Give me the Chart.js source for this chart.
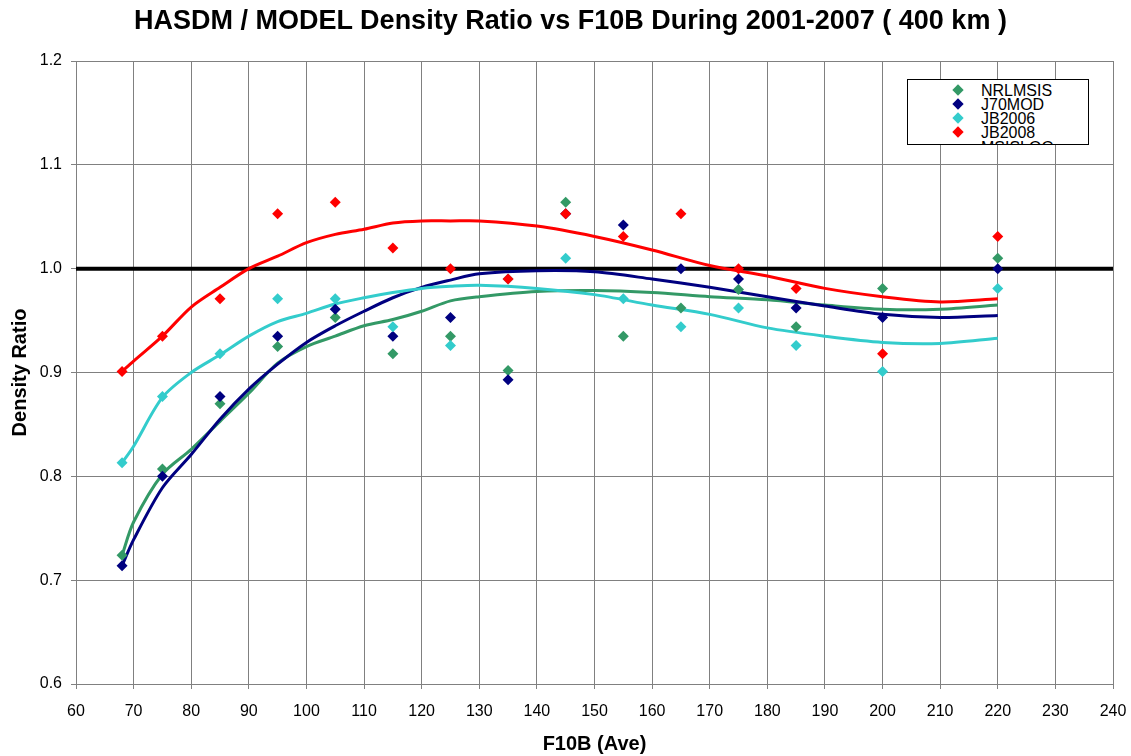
<!DOCTYPE html>
<html>
<head>
<meta charset="utf-8">
<script src="https://cdn.jsdelivr.net/npm/chart.js@4/dist/chart.umd.min.js"></script>
<style>
  html, body { margin: 0; padding: 0; background: #fff; }
  #wrap { position: relative; width: 1131px; height: 756px; }
  #title { position: absolute; left: 70.5px; width: 1000px; top: 7.4px; height: 27px; line-height: 27px; text-align: center;
    font-family: "Liberation Sans", Arial, sans-serif; font-size: 27px; font-weight: bold; color: #000; white-space: nowrap; }
  #legend { position: absolute; left: 907px; top: 79px; width: 182px; height: 66px; box-sizing: border-box;
    border: 1px solid #000; background: #fff; overflow: hidden; font-family: "Liberation Sans", Arial, sans-serif; font-size: 16px; }
  .row { position: absolute; left: 0; height: 16px; line-height: 16px; white-space: nowrap; }
  .mk { position: absolute; left: 46px; top: 3px; width: 8px; height: 8px; transform: rotate(45deg); }
  .tx { position: absolute; left: 73px; top: 0; color: #000; }
</style>
</head>
<body>
<div id="wrap">
  <canvas id="c" width="1131" height="756"></canvas>
  <div id="title"></div>
  <div id="legend"></div>
</div>
<script>
// ---- data ----
const chartTitle = "HASDM / MODEL Density Ratio vs F10B During 2001-2007 ( 400 km )";
const xAxisTitle = "F10B (Ave)";
const yAxisTitle = "Density Ratio";
const seriesNames = ["NRLMSIS", "J70MOD", "JB2006", "JB2008"];
const extraLegendName = "MSISLOG";
const f10b = [68, 75, 85, 95, 105, 115, 125, 135, 145, 155, 165, 175, 185, 200, 220];
const nrlmsis = [0.724, 0.807, 0.870, 0.925, 0.953, 0.918, 0.935, 0.902, 1.064, 0.935, 0.962, 0.980, 0.944, 0.981, 1.010];
const j70mod  = [0.714, 0.800, 0.877, 0.935, 0.961, 0.935, 0.953, 0.893, 1.053, 1.042, 1.000, 0.990, 0.962, 0.953, 1.000];
const jb2006  = [0.813, 0.877, 0.918, 0.971, 0.971, 0.944, 0.926, 0.990, 1.010, 0.971, 0.944, 0.962, 0.926, 0.901, 0.981];
const jb2008  = [0.901, 0.935, 0.971, 1.053, 1.064, 1.020, 1.000, 0.990, 1.053, 1.031, 1.053, 1.000, 0.981, 0.918, 1.031];

// trend lines, read at these F10B values
const trendX = [68, 70, 75, 80, 85, 90, 95, 100, 105, 110, 115, 120, 125, 130, 140, 150, 160, 170, 180, 190, 200, 210, 220];
const trendNrlmsis = [0.724, 0.756, 0.802, 0.826, 0.853, 0.880, 0.909, 0.925, 0.935, 0.945, 0.951, 0.959, 0.969, 0.973, 0.978, 0.979, 0.977, 0.973, 0.970, 0.965, 0.961, 0.961, 0.965];
const trendJ70mod  = [0.714, 0.739, 0.789, 0.821, 0.855, 0.884, 0.908, 0.929, 0.945, 0.959, 0.972, 0.982, 0.989, 0.995, 0.998, 0.997, 0.990, 0.982, 0.973, 0.964, 0.956, 0.953, 0.955];
const trendJb2006  = [0.813, 0.829, 0.876, 0.900, 0.917, 0.935, 0.949, 0.957, 0.966, 0.972, 0.977, 0.981, 0.983, 0.984, 0.981, 0.975, 0.965, 0.956, 0.943, 0.935, 0.929, 0.928, 0.933];
const trendJb2008  = [0.901, 0.911, 0.935, 0.963, 0.982, 1.000, 1.012, 1.025, 1.033, 1.038, 1.044, 1.046, 1.046, 1.046, 1.041, 1.031, 1.018, 1.003, 0.993, 0.981, 0.973, 0.968, 0.971];

const refLineX = [60, 240];
const refLineY = [1.0, 1.0];

const xTickMin = 60, xTickMax = 240, xTickStep = 10;
const yTickMin = 0.6, yTickMax = 1.2, yTickStep = 0.1;

const colors = ["#339966", "#000080", "#33CCCC", "#FF0000"];
// ---------------------------------------

const pts = (xs, ys) => xs.map((x, i) => ({ x: x, y: ys[i] }));
const pointSets = [nrlmsis, j70mod, jb2006, jb2008];
const trendSets = [trendNrlmsis, trendJ70mod, trendJb2006, trendJb2008];

document.getElementById('title').textContent = chartTitle;

const datasets = [];
pointSets.forEach((arr, i) => {
  datasets.push({
    label: seriesNames[i],
    data: pts(f10b, arr),
    showLine: false,
    pointStyle: 'rectRot',
    pointRadius: 5.5,
    pointHoverRadius: 5.5,
    backgroundColor: colors[i],
    borderColor: colors[i],
    borderWidth: 0,
    order: 3 - i
  });
});
trendSets.forEach((arr, i) => {
  datasets.push({
    label: seriesNames[i] + ' trend',
    data: pts(trendX, arr),
    showLine: true,
    pointRadius: 0,
    borderColor: colors[i],
    backgroundColor: colors[i],
    borderWidth: 3,
    tension: 0.3,
    order: 10 - i
  });
});
datasets.push({
  label: 'ref',
  data: pts(refLineX, refLineY),
  showLine: true,
  pointRadius: 0,
  borderColor: '#000000',
  borderWidth: 4,
  order: 20
});

const FONT = '"Liberation Sans", Arial, sans-serif';

new Chart(document.getElementById('c'), {
  type: 'scatter',
  data: { datasets: datasets },
  options: {
    responsive: false,
    animation: false,
    events: [],
    layout: { padding: { left: 0, right: 18, top: 61, bottom: 0 } },
    plugins: {
      legend: { display: false },
      tooltip: { enabled: false },
      title: { display: false }
    },
    scales: {
      x: {
        type: 'linear',
        min: xTickMin, max: xTickMax,
        ticks: { stepSize: xTickStep, color: '#000', font: { family: FONT, size: 16 }, padding: 13, maxRotation: 0 },
        grid: { color: '#808080', lineWidth: 1, tickLength: 5, tickColor: '#808080' },
        border: { color: '#808080', width: 1 },
        title: { display: true, text: xAxisTitle, color: '#000', font: { family: FONT, size: 20, weight: 'bold' }, padding: { top: 0, bottom: 0 } },
        afterFit: (s) => { s.height = 72; s.paddingLeft = 0; s.paddingRight = 0; }
      },
      y: {
        type: 'linear',
        min: yTickMin, max: yTickMax,
        ticks: { stepSize: yTickStep, color: '#000', font: { family: FONT, size: 16 }, padding: 9,
          callback: (v) => Number(v).toFixed(1) },
        grid: { color: '#808080', lineWidth: 1, tickLength: 5, tickColor: '#808080' },
        border: { color: '#808080', width: 1 },
        title: { display: true, text: yAxisTitle, color: '#000', font: { family: FONT, size: 20, weight: 'bold' }, padding: { top: 8, bottom: 0 } },
        afterFit: (s) => { s.width = 76; s.paddingTop = 0; s.paddingBottom = 0; }
      }
    }
  }
});

// HTML legend built from the series names/colours
const lg = document.getElementById('legend');
const rowTops = 11.7, rowStep = 14.2;
seriesNames.concat([extraLegendName]).forEach((name, i) => {
  const row = document.createElement('div');
  row.className = 'row';
  row.style.top = (rowTops + i * rowStep - 8 - 1) + 'px';
  row.style.width = '100%';
  if (i < seriesNames.length) {
    const mk = document.createElement('div');
    mk.className = 'mk';
    mk.style.background = colors[i];
    row.appendChild(mk);
  }
  const tx = document.createElement('div');
  tx.className = 'tx';
  tx.textContent = name;
  row.appendChild(tx);
  lg.appendChild(row);
});
</script>
</body>
</html>
